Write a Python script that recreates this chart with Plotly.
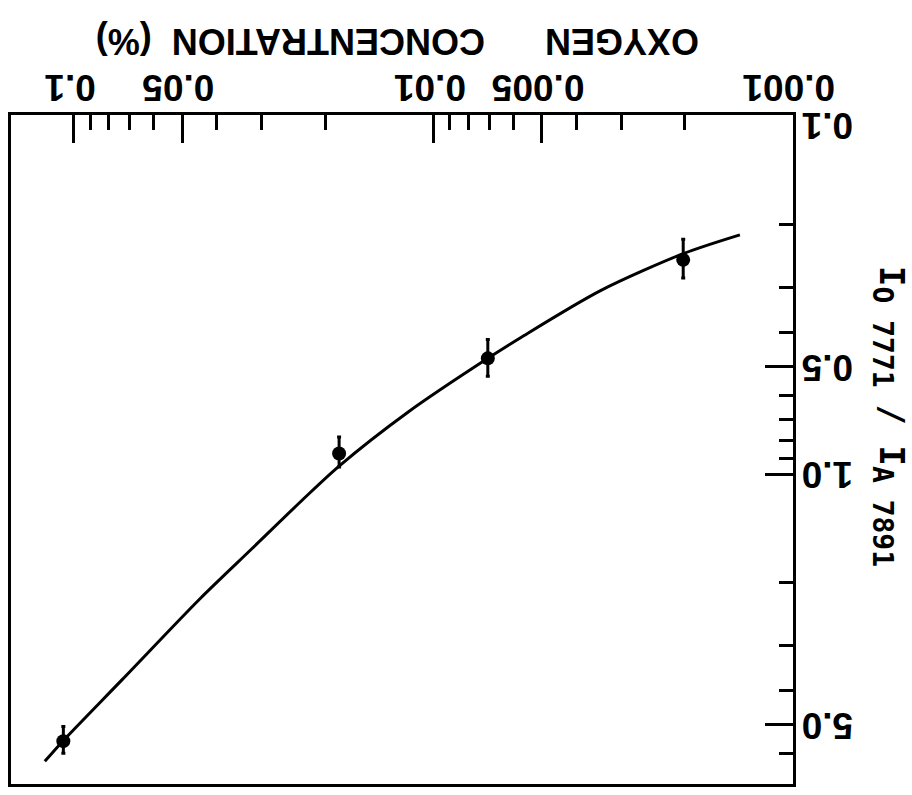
import math
import plotly.graph_objects as go

# measured points (oxygen concentration %, intensity ratio)
o2_conc = [0.107, 0.0183, 0.00706, 0.00202]
intensity_ratio = [5.55, 0.872, 0.473, 0.251]
err_plus = [0.45, 0.08, 0.058, 0.031]
err_minus = [0.50, 0.087, 0.054, 0.031]

# fitted curve
curve_x = [0.1205, 0.1074, 0.0733, 0.0446, 0.0320, 0.0230, 0.0183, 0.01178,
           0.00706, 0.00571, 0.00343, 0.00202, 0.001405]
curve_y = [6.32, 5.55, 3.73, 2.22, 1.61, 1.169, 0.946, 0.669,
           0.473, 0.4135, 0.306, 0.2413, 0.2138]

x_major = [0.1, 0.05, 0.01, 0.005, 0.001]
x_major_labels = ["0.1", "0.05", "0.01", "0.005", "0.001"]
x_minor = [0.09, 0.08, 0.07, 0.06, 0.04, 0.03, 0.02,
           0.009, 0.008, 0.007, 0.006, 0.004, 0.003, 0.002]
y_major = [0.1, 0.5, 1.0, 5.0]
y_major_labels = ["0.1", "0.5", "1.0", "5.0"]
y_minor = [0.2, 0.3, 0.4, 0.6, 0.7, 0.8, 0.9, 2, 3, 4, 6]

X_RANGE = [-0.825, -3.0]
Y_RANGE = [0.864, -1.005]

NB = "\u00a0"
x_title = "OXYGEN" + NB * 6 + "CONCENTRATION" + NB * 2 + "(%)"
SUB = "<sub><span style='font-size:28px'>{}</span></sub>"
y_title = ("I" + SUB.format("O" + NB + "7771" + NB) + "/" + NB
           + "I" + SUB.format("A" + NB + "7891"))

FONT = "Liberation Sans"
TICKFONT = dict(family=FONT, size=37, color="black", weight="bold")


def inside(v, rng):
    lo, hi = sorted(rng)
    return lo + 0.01 < math.log10(v) < hi - 0.01


fig = go.Figure()
fig.add_trace(go.Scatter(
    x=curve_x, y=curve_y, mode="lines",
    line=dict(color="black", width=3, shape="spline", smoothing=0.8),
    hoverinfo="skip", showlegend=False))
fig.add_trace(go.Scatter(
    x=o2_conc, y=intensity_ratio, mode="markers",
    marker=dict(color="black", size=14),
    error_y=dict(type="data", array=err_plus, arrayminus=err_minus,
                 color="black", thickness=3, width=2),
    showlegend=False))

common = dict(type="log", showticklabels=False, ticks="inside", ticklen=28,
              tickwidth=3, tickcolor="black", showgrid=False, zeroline=False,
              showline=True, linecolor="black", linewidth=3, mirror=True)
fig.update_xaxes(
    range=X_RANGE, side="top",
    tickvals=[v for v in x_major if inside(v, X_RANGE)],
    minor=dict(tickvals=x_minor, ticks="inside", ticklen=15,
               tickwidth=2.5, tickcolor="black", showgrid=False),
    **common)
fig.update_yaxes(
    range=Y_RANGE, side="right",
    tickvals=[v for v in y_major if inside(v, Y_RANGE)],
    minor=dict(tickvals=y_minor, ticks="inside", ticklen=14,
               tickwidth=2.5, tickcolor="black", showgrid=False),
    **common)

# upside-down tick labels (positioned through the axes' own scales)
for v, lab in zip(x_major, x_major_labels):
    fig.add_annotation(text=lab, xref="x", yref="paper",
                       x=math.log10(v), y=1.0, yshift=27, xshift=-4,
                       xanchor="center", yanchor="middle",
                       showarrow=False, textangle=180, font=TICKFONT)
for v, lab in zip(y_major, y_major_labels):
    edge = 0 if inside(v, Y_RANGE) else -8
    fig.add_annotation(text=lab, xref="paper", yref="y",
                       x=1.0, xshift=35, y=math.log10(v), yshift=edge,
                       xanchor="center", yanchor="middle",
                       showarrow=False, textangle=180, font=TICKFONT)

fig.add_annotation(text=x_title, xref="paper", yref="paper",
                   x=1.0, xshift=-395, y=1.0, yshift=73,
                   xanchor="center", yanchor="middle",
                   showarrow=False, textangle=180,
                   font=dict(family=FONT, size=36, color="black", weight="bold"))
fig.add_annotation(text=y_title, xref="paper", yref="paper",
                   x=1.0, xshift=96, y=1.0, yshift=-301,
                   xanchor="center", yanchor="middle",
                   showarrow=False, textangle=90,
                   font=dict(family="DejaVu Sans Mono", size=34, color="black",
                             weight="bold"))

fig.update_layout(
    width=912, height=795,
    margin=dict(l=8, r=119, t=115, b=9),
    paper_bgcolor="white", plot_bgcolor="white")

fig.write_html("out.html")
